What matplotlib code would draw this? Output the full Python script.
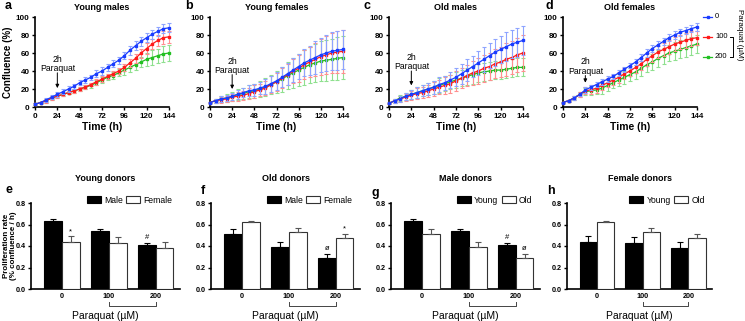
import numpy as np
import matplotlib
matplotlib.use("Agg")
import matplotlib.pyplot as plt
from matplotlib.lines import Line2D
import matplotlib.transforms as mtransforms

plt.rcParams['font.family'] = ['Liberation Sans', 'DejaVu Sans']

# ---------------- data ----------------
time_h = [0, 6, 12, 18, 24, 30, 36, 42, 48, 54, 60, 66, 72, 78, 84, 90, 96,
          102, 108, 114, 120, 126, 132, 138, 144]
doses = ["0", "100", "200"]

ym_0 = [3, 5, 8, 11, 14, 17, 20, 23, 27, 30, 33, 37, 40, 44, 48, 52, 57, 63, 68, 73, 77, 81, 84, 87, 88]
ym_100 = [3, 5, 7, 10, 12, 14, 16, 18, 20, 22, 25, 28, 31, 34, 37, 40, 44, 49, 54, 60, 65, 70, 74, 77, 78]
ym_200 = [3, 5, 7, 10, 12, 14, 16, 18, 20, 22, 24, 27, 30, 33, 35, 38, 41, 44, 47, 50, 53, 55, 57, 59, 60]
ym_0_err = [1, 1, 2, 2, 3, 3, 3, 3, 3, 3, 3, 4, 4, 4, 4, 4, 4, 5, 5, 5, 5, 5, 5, 5, 5]
ym_100_err = [1, 1, 2, 2, 2, 2, 2, 2, 2, 2, 2, 3, 3, 3, 3, 3, 4, 4, 5, 5, 6, 6, 6, 7, 7]
ym_200_err = [1, 1, 2, 2, 2, 2, 2, 2, 2, 2, 3, 3, 3, 3, 4, 4, 5, 5, 6, 6, 7, 8, 8, 9, 9]

yf_0 = [5, 7, 9, 10, 12, 14, 16, 18, 19, 21, 23, 26, 29, 33, 37, 41, 45, 49, 52, 55, 58, 60, 62, 63, 64]
yf_100 = [5, 7, 8, 9, 11, 12, 13, 15, 17, 19, 21, 25, 28, 32, 36, 40, 43, 47, 50, 53, 56, 58, 60, 61, 62]
yf_200 = [5, 7, 9, 10, 12, 14, 15, 17, 18, 20, 22, 25, 28, 31, 35, 38, 41, 44, 47, 49, 51, 52, 53, 54, 55]
yf_0_err = [1, 2, 3, 3, 4, 5, 5, 6, 7, 7, 8, 9, 10, 11, 12, 13, 14, 15, 16, 18, 19, 20, 21, 22, 22]
yf_100_err = [1, 2, 3, 3, 4, 5, 5, 6, 7, 7, 8, 9, 10, 11, 12, 13, 15, 16, 17, 18, 20, 21, 22, 23, 24]
yf_200_err = [1, 2, 3, 4, 5, 6, 6, 7, 8, 9, 10, 11, 12, 14, 15, 17, 18, 19, 20, 21, 22, 23, 23, 24, 24]

om_0 = [4, 7, 9, 12, 14, 16, 18, 20, 22, 25, 27, 30, 33, 37, 41, 45, 49, 53, 57, 61, 64, 67, 70, 72, 74]
om_100 = [4, 7, 9, 11, 13, 15, 16, 18, 20, 22, 24, 26, 29, 32, 35, 38, 40, 43, 45, 48, 50, 53, 55, 58, 60]
om_200 = [4, 7, 10, 12, 14, 16, 18, 20, 22, 24, 26, 28, 30, 32, 34, 36, 38, 39, 40, 41, 41, 42, 43, 44, 44]
om_0_err = [1, 2, 3, 4, 5, 6, 6, 7, 7, 8, 8, 9, 10, 11, 12, 12, 13, 14, 14, 15, 15, 16, 16, 16, 16]
om_100_err = [1, 2, 3, 4, 5, 6, 6, 7, 8, 8, 9, 10, 11, 11, 12, 13, 14, 15, 15, 16, 17, 18, 18, 19, 20]
om_200_err = [1, 2, 3, 4, 5, 6, 6, 7, 7, 8, 8, 8, 9, 9, 9, 10, 10, 10, 10, 10, 10, 10, 10, 10, 10]

of_0 = [5, 7, 10, 14, 19, 22, 25, 28, 31, 34, 38, 42, 46, 50, 55, 60, 65, 69, 73, 77, 80, 83, 85, 87, 89]
of_100 = [5, 7, 10, 14, 18, 19, 21, 24, 27, 30, 33, 37, 40, 44, 48, 53, 57, 61, 64, 67, 70, 72, 74, 76, 77]
of_200 = [5, 7, 10, 14, 17, 18, 19, 21, 24, 27, 30, 33, 36, 39, 43, 47, 50, 54, 57, 60, 62, 64, 66, 68, 70]
of_0_err = [1, 1, 2, 2, 3, 3, 3, 3, 3, 3, 3, 3, 3, 3, 4, 4, 4, 4, 4, 4, 4, 4, 4, 4, 4]
of_100_err = [1, 1, 2, 3, 4, 5, 5, 5, 5, 6, 6, 6, 6, 6, 7, 7, 7, 7, 7, 8, 8, 8, 8, 8, 8]
of_200_err = [1, 1, 2, 3, 4, 5, 5, 6, 6, 6, 7, 7, 7, 8, 8, 8, 9, 9, 9, 9, 10, 10, 10, 10, 10]

top_titles = ["Young males", "Young females", "Old males", "Old females"]
top_letters = ["a", "b", "c", "d"]

# bar panels
paraquat_labels = ["0", "100", "200"]
young_male = [0.63, 0.54, 0.41]
young_male_err = [0.02, 0.015, 0.02]
young_female = [0.44, 0.43, 0.38]
young_female_err = [0.05, 0.05, 0.06]
old_male = [0.51, 0.39, 0.29]
old_male_err = [0.045, 0.045, 0.04]
old_female = [0.62, 0.53, 0.47]
old_female_err = [0.015, 0.035, 0.04]

bottom_titles = ["Young donors", "Old donors", "Male donors", "Female donors"]
bottom_letters = ["e", "f", "g", "h"]
bottom_legends = [("Male", "Female"), ("Male", "Female"), ("Young", "Old"), ("Young", "Old")]
# annotations: (group index, which bar 0/1, symbol)
bottom_marks = [[(0, 1, "*"), (2, 0, "#")],
                [(2, 0, "ø"), (2, 1, "*")],
                [(2, 0, "#"), (2, 1, "ø")],
                []]

# --------------- styling ---------------
W, H = 745, 321
fig = plt.figure(figsize=(W / 100, H / 100), dpi=100)

line_cols = ["#1a3cff", "#ff1a1a", "#22c022"]
err_cols = ["#8ea4ff", "#ff8f8f", "#8fe08f"]


def ax_px(l, r, t, b):
    return fig.add_axes([l / W, (H - b) / H, (r - l) / W, (b - t) / H])


def style(ax, fs):
    for s in ["top", "right"]:
        ax.spines[s].set_visible(False)
    for s in ["left", "bottom"]:
        ax.spines[s].set_linewidth(1.2)
    ax.tick_params(width=1.0, length=2.5, labelsize=fs, pad=1.5)
    for lab in ax.get_xticklabels() + ax.get_yticklabels():
        lab.set_fontweight("bold")


top_data = [
    ((ym_0, ym_0_err), (ym_100, ym_100_err), (ym_200, ym_200_err)),
    ((yf_0, yf_0_err), (yf_100, yf_100_err), (yf_200, yf_200_err)),
    ((om_0, om_0_err), (om_100, om_100_err), (om_200, om_200_err)),
    ((of_0, of_0_err), (of_100, of_100_err), (of_200, of_200_err)),
]
top_pos = [(35, 169), (210, 343), (389, 523), (563, 697)]
letter_x_top = [5, 185, 364, 545]
arrow_tips = [21, 20, 24, 27]
text_y = [(53, 43), (51, 41), (55, 45), (50, 40)]

t = np.array(time_h)
for i, (l, r) in enumerate(top_pos):
    ax = ax_px(l, r, 17, 107)
    for k in [2, 1, 0]:
        m, e = top_data[i][k]
        ax.errorbar(t, m, yerr=e, color=line_cols[k], ecolor=err_cols[k],
                    elinewidth=0.8, capsize=1.3, capthick=0.8, lw=0.9,
                    marker="s", ms=1.6, clip_on=False, zorder=3 + (2 - k))
    ax.set_xlim(0, 144)
    ax.set_ylim(0, 100)
    ax.set_xticks(range(0, 145, 24))
    ax.set_yticks(range(0, 101, 20))
    style(ax, 5.8)
    ax.set_xlabel("Time (h)", fontsize=7.5, fontweight="bold", labelpad=2)
    if i == 0:
        ax.set_ylabel("Confluence (%)", fontsize=7, fontweight="bold", labelpad=2)
    ax.set_title(top_titles[i], fontsize=6.5, fontweight="bold", pad=5)
    ax.annotate("", xy=(24, arrow_tips[i]), xytext=(24, text_y[i][1] - 5),
                arrowprops=dict(arrowstyle="-|>", color="black", lw=0.7,
                                mutation_scale=5, shrinkA=0, shrinkB=0))
    ax.text(24, text_y[i][0], "2h", ha="center", va="center", fontsize=6.2)
    ax.text(24, text_y[i][1], "Paraquat", ha="center", va="center", fontsize=6.2)
    fig.text(letter_x_top[i] / W, 1 - 6 / H, top_letters[i], fontsize=9,
             fontweight="bold", ha="left", va="center")

# legend for top (manual, in figure pixel coords)
leg_y = [17, 37, 57]
for k in range(3):
    yk = 1 - leg_y[k] / H
    fig.add_artist(Line2D([703 / W, 712 / W], [yk, yk], color=line_cols[k], lw=0.9))
    fig.add_artist(Line2D([707.5 / W], [yk], color=line_cols[k], marker="s", ms=1.6))
    fig.text(715 / W, yk, doses[k], fontsize=5.5, ha="left", va="center")
bx = 733 / W
fig.add_artist(Line2D([bx - 3 / W, bx, bx, bx - 3 / W],
                      [1 - 37 / H, 1 - 37 / H, 1 - 57 / H, 1 - 57 / H],
                      color="black", lw=0.7))
fig.text(739 / W, 1 - 35 / H, "Paraquat (µM)", fontsize=5.8, rotation=-90,
         ha="center", va="center")

# --------------- bottom row ---------------
bar_data = [
    ((young_male, young_male_err), (young_female, young_female_err)),
    ((old_male, old_male_err), (old_female, old_female_err)),
    ((young_male, young_male_err), (old_male, old_male_err)),
    ((young_female, young_female_err), (old_female, old_female_err)),
]
bot_pos = [(31, 180), (211, 360), (391, 540), (567, 712)]
letter_pos_bot = [(5, 190), (201, 191), (372, 193), (547, 191)]
x = np.arange(3)
bw = 0.38
for i, (l, r) in enumerate(bot_pos):
    ax = ax_px(l, r, 203, 289)
    (m0, e0), (m1, e1) = bar_data[i]
    ax.bar(x - bw / 2, m0, bw, color="black", edgecolor="black", lw=0.8,
           yerr=[np.zeros(3), e0], error_kw=dict(ecolor="black", elinewidth=0.8,
                                                   capsize=2.5, capthick=0.8),
           label=bottom_legends[i][0], zorder=3)
    ax.bar(x + bw / 2, m1, bw, color="white", edgecolor="#333333", lw=0.8,
           yerr=[np.zeros(3), e1], error_kw=dict(ecolor="#555555", elinewidth=0.8,
                                                   capsize=2.5, capthick=0.8),
           label=bottom_legends[i][1], zorder=3)
    for (g, b, sym) in bottom_marks[i]:
        mm, ee = (m0, e0) if b == 0 else (m1, e1)
        ax.text(g + (b - 0.5) * bw, mm[g] + ee[g] + 0.012, sym, ha="center",
                va="bottom", fontsize=5.5)
    ax.set_xlim(-0.66, 2.52)
    ax.set_ylim(0, 0.8)
    ax.set_xticks(x)
    ax.set_xticklabels(paraquat_labels)
    ax.set_yticks([0.0, 0.2, 0.4, 0.6, 0.8])
    ax.set_yticklabels(["0.0", "0.2", "0.4", "0.6", "0.8"])
    style(ax, 5.2)
    ax.tick_params(axis="x", length=0, pad=3)
    ax.set_title(bottom_titles[i], fontsize=6.5, fontweight="bold", pad=16)
    ax.legend(loc="lower right", bbox_to_anchor=(0.95, 0.98), ncol=2, frameon=False,
              fontsize=6.2, handlelength=1.6, handleheight=0.8, handletextpad=0.4,
              columnspacing=0.4, borderpad=0, borderaxespad=0)
    trans = mtransforms.blended_transform_factory(ax.transData, ax.transAxes)
    ax.plot([1, 1, 2, 2], [-0.15, -0.2, -0.2, -0.15], color="#444444", lw=0.7,
            transform=trans, clip_on=False)
    ax.set_xlabel("Paraquat (µM)", fontsize=7.5, labelpad=8)
    if i == 0:
        ax.set_ylabel("Proliferation rate\n(% confluence / h)", fontsize=5.8,
                      fontweight="bold", linespacing=1.0)
        ax.yaxis.set_label_coords(-0.097, 0.5)
    fig.text(letter_pos_bot[i][0] / W, 1 - letter_pos_bot[i][1] / H,
             bottom_letters[i], fontsize=9, fontweight="bold", ha="left", va="center")

fig.savefig("out.png", dpi=100)
